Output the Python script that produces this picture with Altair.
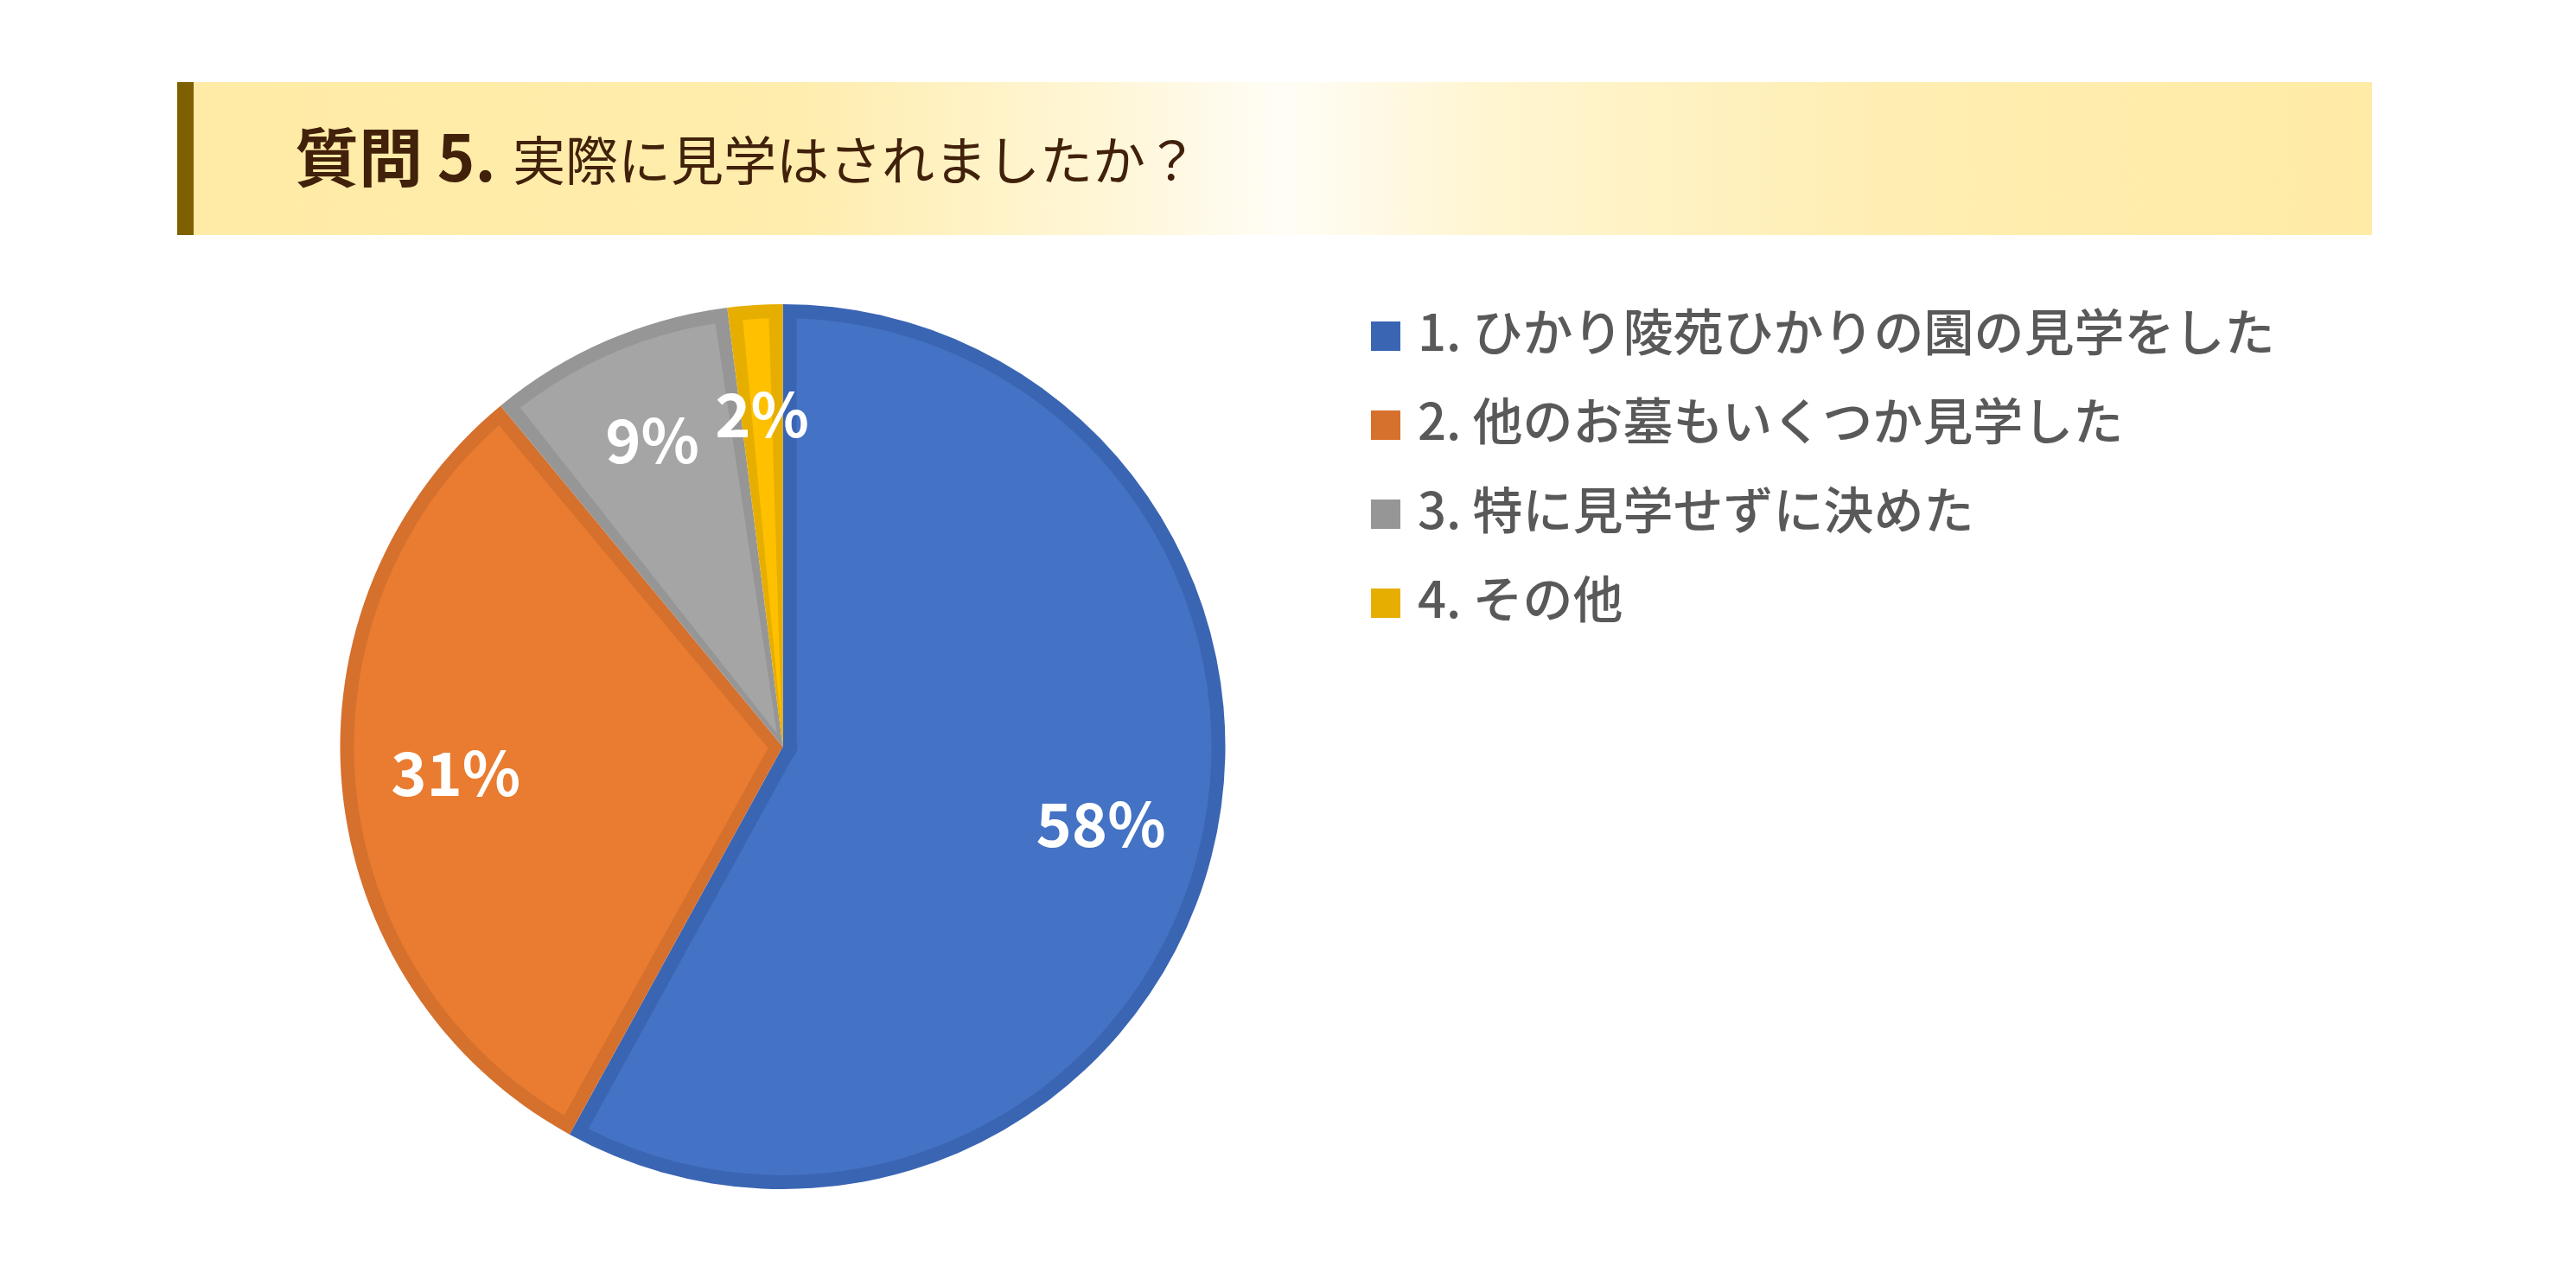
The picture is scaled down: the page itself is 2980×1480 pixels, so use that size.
import altair as alt
import pandas as pd

# ---- data ----
categories = [
    "1. ひかり陵苑ひかりの園の見学をした",
    "2. 他のお墓もいくつか見学した",
    "3. 特に見学せずに決めた",
    "4. その他",
]
values = [58, 31, 9, 2]
labels = ["58%", "31%", "9%", "2%"]
fill_colors = ["#4472C4", "#E97C30", "#A5A5A5", "#FFC000"]
edge_colors = ["#3A65B3", "#D5702D", "#969696", "#E6AE00"]
title_bold = "質問 5."
title_text = "実際に見学はされましたか？"

FONT = "Noto Sans CJK JP"
W, H = 2964, 1464
CX, CY = 897.5, 856
R = 512
B = 16

df = pd.DataFrame({"category": categories, "value": values,
                   "label": labels, "idx": list(range(len(categories)))})
one = pd.DataFrame({"d": [0]})

band_gradient = alt.LinearGradient(
    gradient="linear",
    stops=[
        alt.GradientStop(color="#FFEBA5", offset=0),
        alt.GradientStop(color="#FFEDAD", offset=0.28),
        alt.GradientStop(color="#FFF6D6", offset=0.42),
        alt.GradientStop(color="#FFFDF6", offset=0.505),
        alt.GradientStop(color="#FFF5D0", offset=0.6),
        alt.GradientStop(color="#FFEEB2", offset=0.78),
        alt.GradientStop(color="#FFEBA6", offset=1),
    ],
    x1=0, x2=1, y1=0, y2=0,
)

band = alt.Chart(one).mark_rect(fill=band_gradient).encode(
    x=alt.value(197), x2=alt.value(2736), y=alt.value(87), y2=alt.value(264)
)
bar = alt.Chart(one).mark_rect(fill="#7F6000").encode(
    x=alt.value(197), x2=alt.value(216), y=alt.value(87), y2=alt.value(264)
)
t1 = alt.Chart(pd.DataFrame({"t": [title_bold]})).mark_text(
    font=FONT, fontSize=74, fontWeight="bold", color="#42210B",
    align="left", baseline="middle"
).encode(text="t:N", x=alt.value(333), y=alt.value(180))
t2 = alt.Chart(pd.DataFrame({"t": [title_text]})).mark_text(
    font=FONT, fontSize=61, fontWeight="normal", color="#42210B",
    align="left", baseline="middle"
).encode(text="t:N", x=alt.value(585), y=alt.value(183))

theta = alt.Theta("value:Q", stack=True)
order = alt.Order("idx:Q")

dark = alt.Chart(df).mark_arc(radius=R, strokeWidth=0).encode(
    theta=theta, order=order,
    color=alt.Color(
        "category:N",
        scale=alt.Scale(domain=categories, range=edge_colors),
        legend=alt.Legend(
            title=None, orient="none", legendX=1566, legendY=352,
            symbolType="square", symbolSize=34 * 34, symbolStrokeWidth=0,
            labelFont=FONT, labelFontSize=58, labelFontWeight=500,
            labelColor="#595959",
            labelOffset=8, rowPadding=45, padding=0, labelLimit=2000,
        ),
    ),
    x=alt.value(CX), y=alt.value(CY),
)

light = alt.Chart(df).mark_arc(radius=R - B, radius2=17, padAngle=0.0645,
                               strokeWidth=0).encode(
    theta=theta, order=order,
    fill=alt.Fill("category:N",
                  scale=alt.Scale(domain=categories, range=fill_colors),
                  legend=None),
    x=alt.value(CX), y=alt.value(CY),
)

text = alt.Chart(df).mark_text(
    radius=380, font=FONT, fontSize=70, fontWeight="bold", color="white",
    align="center", baseline="middle"
).encode(
    theta=theta, order=order, text="label:N",
    x=alt.value(CX), y=alt.value(CY),
)

chart = alt.layer(band, bar, t1, t2, dark, light, text).properties(
    width=W, height=H, padding=0,
    autosize=alt.AutoSizeParams(type="none"),
).configure_view(stroke=None)

chart.save("out.html", embed_options={"renderer": "svg", "actions": False})
